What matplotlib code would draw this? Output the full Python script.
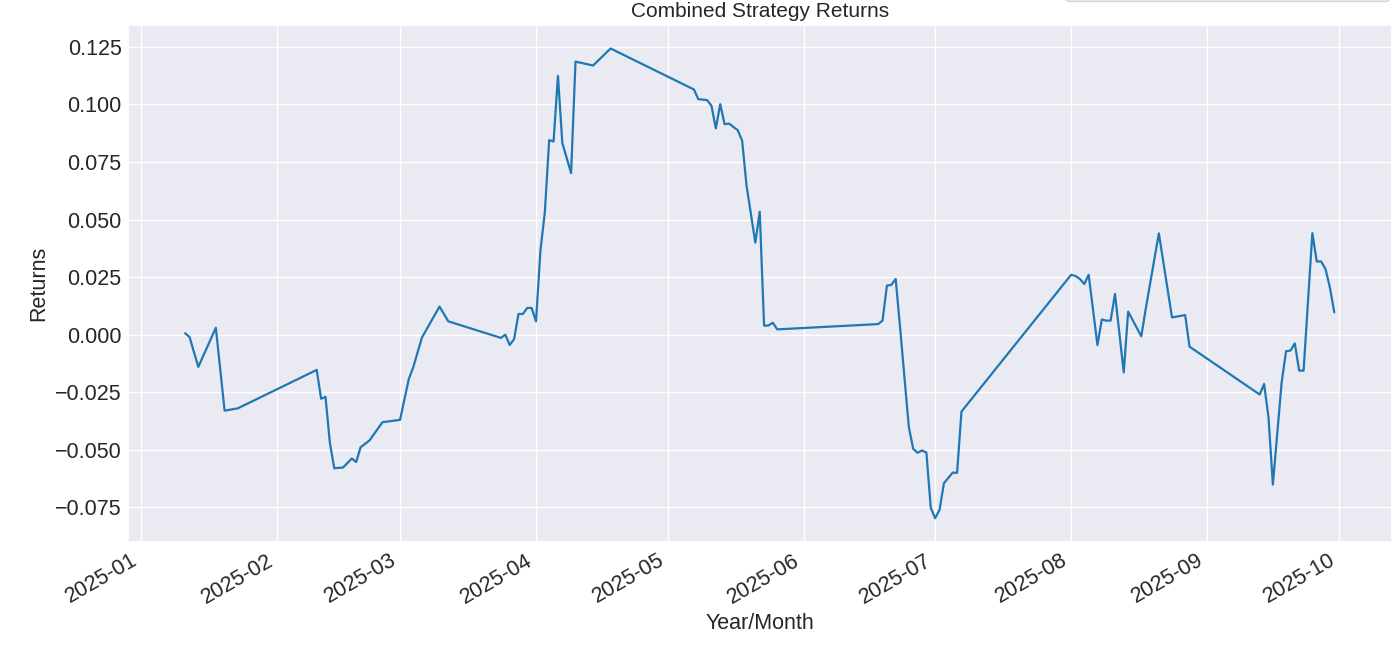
import matplotlib
matplotlib.use("Agg")
import matplotlib.pyplot as plt
import matplotlib.dates as mdates
import seaborn as sns
import pandas as pd

# Fechas y rendimientos
fechas = [
    "2025-01-11", "2025-01-12", "2025-01-14", "2025-01-18", "2025-01-20", "2025-01-23",
    "2025-02-10", "2025-02-11", "2025-02-12", "2025-02-13", "2025-02-14", "2025-02-16",
    "2025-02-18", "2025-02-19", "2025-02-20", "2025-02-22", "2025-02-25", "2025-03-01",
    "2025-03-03", "2025-03-04", "2025-03-06", "2025-03-10", "2025-03-12",
    "2025-03-24", "2025-03-25", "2025-03-26", "2025-03-27", "2025-03-28", "2025-03-29",
    "2025-03-30", "2025-03-31", "2025-04-01", "2025-04-02", "2025-04-03", "2025-04-04",
    "2025-04-05", "2025-04-06", "2025-04-07", "2025-04-09", "2025-04-10", "2025-04-14",
    "2025-04-18",
    "2025-05-07", "2025-05-08", "2025-05-10", "2025-05-11", "2025-05-12", "2025-05-13",
    "2025-05-14", "2025-05-15", "2025-05-17", "2025-05-18", "2025-05-19", "2025-05-21",
    "2025-05-22", "2025-05-23", "2025-05-24", "2025-05-25", "2025-05-26",
    "2025-06-18", "2025-06-19", "2025-06-20", "2025-06-21", "2025-06-22", "2025-06-23",
    "2025-06-25", "2025-06-26", "2025-06-27", "2025-06-28", "2025-06-29", "2025-06-30",
    "2025-07-01", "2025-07-02", "2025-07-03", "2025-07-05", "2025-07-06", "2025-07-07",
    "2025-08-01", "2025-08-02", "2025-08-03", "2025-08-04", "2025-08-05", "2025-08-07",
    "2025-08-08", "2025-08-09", "2025-08-10", "2025-08-11", "2025-08-13", "2025-08-14",
    "2025-08-17", "2025-08-18", "2025-08-21", "2025-08-24", "2025-08-27", "2025-08-28",
    "2025-09-13", "2025-09-14", "2025-09-15", "2025-09-16", "2025-09-18", "2025-09-19",
    "2025-09-20", "2025-09-21", "2025-09-22", "2025-09-23", "2025-09-25", "2025-09-26",
    "2025-09-27", "2025-09-28", "2025-09-29", "2025-09-30",
]

retornos = [
    0.0006, -0.0010, -0.0140, 0.0030, -0.0330, -0.0320,
    -0.0153, -0.0278, -0.0270, -0.0470, -0.0580, -0.0577,
    -0.0538, -0.0553, -0.0489, -0.0460, -0.0380, -0.0370,
    -0.0192, -0.0142, -0.0012, 0.0122, 0.0058,
    -0.0014, 0.0000, -0.0045, -0.0019, 0.0090, 0.0090,
    0.0116, 0.0116, 0.0058, 0.0365, 0.0530, 0.0845,
    0.0839, 0.1124, 0.0832, 0.0702, 0.1186, 0.1169,
    0.1243,
    0.1065, 0.1023, 0.1019, 0.0994, 0.0896, 0.1001,
    0.0914, 0.0917, 0.0888, 0.0842, 0.0647, 0.0400,
    0.0534, 0.0039, 0.0040, 0.0052, 0.0023,
    0.0046, 0.0061, 0.0213, 0.0216, 0.0242, 0.0032,
    -0.0402, -0.0496, -0.0513, -0.0503, -0.0512, -0.0752,
    -0.0797, -0.0761, -0.0645, -0.0599, -0.0600, -0.0334,
    0.0260, 0.0255, 0.0242, 0.0220, 0.0260, -0.0045,
    0.0066, 0.0061, 0.0061, 0.0177, -0.0164, 0.0100,
    -0.0007, 0.0111, 0.0440, 0.0075, 0.0085, -0.0052,
    -0.0260, -0.0214, -0.0359, -0.0651, -0.0207, -0.0072,
    -0.0069, -0.0038, -0.0156, -0.0156, 0.0441, 0.0318,
    0.0318, 0.0285, 0.0205, 0.0097,
]

sns.set_theme(style="darkgrid")
plt.rcParams['font.family'] = ['Liberation Sans', 'DejaVu Sans']

fechas = pd.to_datetime(fechas)

fig = plt.figure(figsize=(14, 6.46), dpi=100)
ax = fig.add_axes([0.0912, 0.1615, 0.9029, 0.7998])

linea, = ax.plot(fechas, retornos, color="#1f77b4", linewidth=1.6)

ax.set_title("Combined Strategy Returns", fontsize=15, pad=6)
ax.set_xlabel("Year/Month", fontsize=15.5)
ax.set_ylabel("Returns", fontsize=15.5)

ax.xaxis.set_major_locator(mdates.MonthLocator())
ax.xaxis.set_major_formatter(mdates.DateFormatter("%Y-%m"))
ax.tick_params(axis="y", labelsize=15.5, length=0, pad=4.3)
ax.tick_params(axis="x", labelsize=15.5, length=0, pad=6)
plt.setp(ax.get_xticklabels(), rotation=30, ha="right")

# la leyenda queda fuera del cuadro: solo asoma su borde inferior
fig.legend(handles=[linea], labels=[""], loc="lower left",
           bbox_to_anchor=(1065 / 1400, 1 - 1.0 / 646, 324 / 1400, 0.1),
           mode="expand", borderaxespad=0, borderpad=0.8, fontsize=14)

fig.savefig("out.png", dpi=100)
